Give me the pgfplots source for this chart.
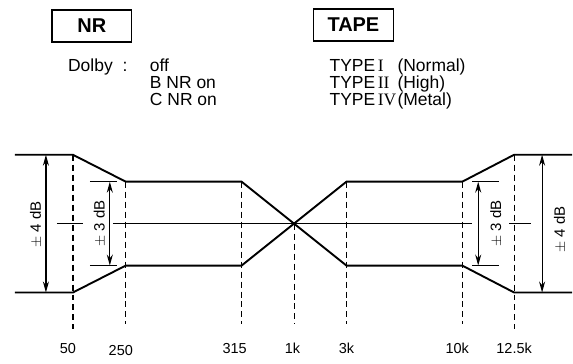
\documentclass[border=0pt]{standalone}
\usepackage{pgfplots}
\pgfplotsset{compat=1.18}
\usepackage{fontspec}
\setmainfont{Liberation Sans}
\newfontfamily\romfont{Liberation Serif}
\usetikzlibrary{arrows.meta}
\begin{document}
\begin{tikzpicture}
\begin{axis}[
  width=573pt, height=364pt, scale only axis,
  xmin=0, xmax=573, ymin=-140, ymax=224,
  axis lines=none, clip=false,
  every axis plot/.append style={no markers},
]
\path (axis cs:0,-140) rectangle (axis cs:573,224);
% response curves
\addplot[black, line width=1.9pt, line join=miter] coordinates {(15,69) (73,69) (126,42) (242,42) (347,-42) (463,-42) (515,-69) (573,-69)};
\addplot[black, line width=1.9pt, line join=miter] coordinates {(15,-69) (73,-69) (126,-42) (242,-42) (347,42) (463,42) (515,69) (573,69)};
% centre line
\addplot[black, line width=1.2pt] coordinates {(113,0) (473,0)};
\addplot[black, line width=1.2pt] coordinates {(57,0) (83,0)};
\addplot[black, line width=1.2pt] coordinates {(510,0) (532,0)};
% dashed frequency lines
\addplot[black, line width=1.3pt, dash pattern=on 6pt off 4pt] coordinates {(73,69) (73,-106)};
\addplot[black, line width=1.3pt, dash pattern=on 6pt off 4pt] coordinates {(126,42) (126,-101)};
\addplot[black, line width=1.3pt, dash pattern=on 6pt off 4pt] coordinates {(242,42) (242,-101)};
\addplot[black, line width=1.3pt, dash pattern=on 6pt off 4pt] coordinates {(295,0) (295,-101)};
\addplot[black, line width=1.3pt, dash pattern=on 6pt off 4pt] coordinates {(347,42) (347,-101)};
\addplot[black, line width=1.3pt, dash pattern=on 6pt off 4pt] coordinates {(463,42) (463,-101)};
\addplot[black, line width=1.3pt, dash pattern=on 6pt off 4pt] coordinates {(515,69) (515,-106)};
% reference lines for +-3 dB
\addplot[black, line width=1.2pt] coordinates {(90,42) (117,42)};
\addplot[black, line width=1.2pt] coordinates {(90,-42) (117,-42)};
\addplot[black, line width=1.2pt] coordinates {(473,42) (500,42)};
\addplot[black, line width=1.2pt] coordinates {(473,-42) (500,-42)};
% arrows
\addplot[black, line width=1.2pt, {Stealth[length=11pt,width=6pt]}-{Stealth[length=11pt,width=6pt]}] coordinates {(46,69) (46,-69)};
\addplot[black, line width=1.2pt, {Stealth[length=11pt,width=6pt]}-{Stealth[length=11pt,width=6pt]}] coordinates {(110,42) (110,-42)};
\addplot[black, line width=1.2pt, {Stealth[length=11pt,width=6pt]}-{Stealth[length=11pt,width=6pt]}] coordinates {(479,42) (479,-42)};
\addplot[black, line width=1.2pt, {Stealth[length=11pt,width=6pt]}-{Stealth[length=11pt,width=6pt]}] coordinates {(543,69) (543,-69)};
% dB labels
\node[rotate=90, font=\fontsize{15}{16}\selectfont] at (axis cs:36,-1) {$\pm$ 4 dB};
\node[rotate=90, font=\fontsize{15}{16}\selectfont] at (axis cs:100,0) {$\pm$ 3 dB};
\node[rotate=90, font=\fontsize{15}{16}\selectfont] at (axis cs:497,0) {$\pm$ 3 dB};
\node[rotate=90, font=\fontsize{15}{16}\selectfont] at (axis cs:561,-6) {$\pm$ 4 dB};
% frequency labels
\foreach \xx/\lab/\yy in {68/50/-130, 121/250/-132, 235/315/-130, 293/1k/-130, 347/3k/-130, 458/10k/-130, 515/12.5k/-130} {
  \edef\temp{\noexpand\node[anchor=base, font=\noexpand\fontsize{14.5}{16}\noexpand\selectfont] at (axis cs:\xx,\yy) {\lab};}
  \temp
}
% header boxes
\draw[line width=1.2pt] (axis cs:52,214) rectangle (axis cs:132,182);
\node[font=\fontsize{20}{22}\selectfont\bfseries] at (axis cs:92,198) {NR};
\draw[line width=1.2pt] (axis cs:314,215) rectangle (axis cs:394,183);
\node[font=\fontsize{20}{22}\selectfont\bfseries] at (axis cs:354,199) {TAPE};
% legend text
\tikzset{lt/.style={anchor=base west, font=\fontsize{17.5}{18}\selectfont, inner sep=0pt}}
\node[lt] at (axis cs:68,152) {Dolby\hspace{10pt}:};
\node[lt] at (axis cs:150,152) {off};
\node[lt] at (axis cs:150,135) {B NR on};
\node[lt] at (axis cs:150,118) {C NR on};
\node[lt] at (axis cs:330,152) {TYPE\hspace{2.5pt}{\romfont I}};
\node[lt] at (axis cs:330,135) {TYPE\hspace{2.5pt}{\romfont II}};
\node[lt] at (axis cs:330,118) {TYPE\hspace{2.5pt}{\romfont IV}};
\node[lt] at (axis cs:398,152) {(Normal)};
\node[lt] at (axis cs:398,135) {(High)};
\node[lt] at (axis cs:398,118) {(Metal)};
\end{axis}
\end{tikzpicture}
\end{document}
